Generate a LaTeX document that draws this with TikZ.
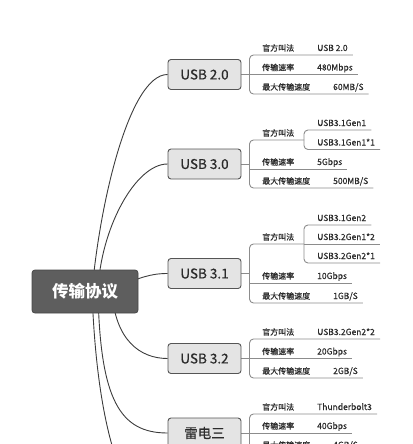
\documentclass[tikz,border=0pt]{standalone}
\usepackage{fontspec}
\setmainfont{Noto Sans CJK SC}
\newfontfamily\medfont[FakeBold=0.5]{Noto Sans CJK SC}
\definecolor{rootfill}{HTML}{5E5E5E}
\definecolor{rootdraw}{HTML}{474747}
\definecolor{boxfill}{HTML}{E4E4E4}
\definecolor{boxdraw}{HTML}{555555}
\definecolor{linkc}{HTML}{3C3C3C}
\definecolor{brc}{HTML}{8C8C8C}
\definecolor{txt}{HTML}{2B2B2B}
\pgfdeclarelayer{bg}
\pgfsetlayers{bg,main}
\begin{document}
\begin{tikzpicture}[x=1pt,y=-1pt,
  cat/.style={draw=boxdraw, fill=boxfill, rounded corners=3pt, line width=0.9pt,
    minimum width=73pt, minimum height=30pt, inner sep=0pt,
    font=\medfont\fontsize{13.5}{15}\selectfont, text=txt},
  rootbox/.style={draw=rootdraw, fill=rootfill, rounded corners=3pt, line width=0.8pt,
    minimum width=106pt, minimum height=43pt, inner sep=0pt,
    font=\fontsize{16.5}{18}\selectfont\bfseries, text=white},
  key/.style={anchor=base west, inner sep=0pt, font=\medfont\fontsize{8}{9}\selectfont, text=txt},
  val/.style={anchor=base west, inner xsep=5pt, inner ysep=0pt, font=\medfont\fontsize{8.5}{9}\selectfont, text=txt},
  link/.style={draw=linkc, line width=0.9pt},
  branch/.style={draw=brc, line width=0.9pt, rounded corners=4pt},
]
\useasboundingbox (0,0) rectangle (412,444);

% ---------- main nodes ----------
\node[rootbox] (root) at (85,291.5) {传输协议};
\node[cat] (u20) at (204.5,74.5) {USB 2.0};
\node[cat] (u30) at (204.5,164) {USB 3.0};
\node[cat] (u31) at (204.5,273.5) {USB 3.1};
\node[cat] (u32) at (204.5,358.5) {USB 3.2};
\node[cat] (tb3) at (204.5,433) {雷电三};
\coordinate (more) at (168,520);

% ---------- USB 2.0 ----------
\coordinate (a1) at (249.5,55);
\coordinate (a2) at (249.5,74.5);
\coordinate (a3) at (249.5,94);
\node[key] (ak1) at (262,51) {官方叫法};
\node[val] (av1) at (312,51) {USB 2.0};
\node[key] (ak2) at (262,70.5) {传输速率};
\node[val] (av2) at (312,70.5) {480Mbps};
\node[key] (ak3) at (262,90) {最大传输速度};
\node[val] (av3) at (328,90) {60MB/S};

% ---------- USB 3.0 ----------
\coordinate (b1) at (249.5,140);
\coordinate (b2) at (249.5,169);
\coordinate (b3) at (249.5,188);
\coordinate (bs1) at (304,130);
\coordinate (bs2) at (304,149.5);
\node[key] (bk1) at (262,136) {官方叫法};
\node[val] (bv1a) at (312,126) {USB3.1Gen1};
\node[val] (bv1b) at (312,145.5) {USB3.1Gen1*1};
\node[key] (bk2) at (262,165) {传输速率};
\node[val] (bv2) at (312,165) {5Gbps};
\node[key] (bk3) at (262,184) {最大传输速度};
\node[val] (bv3) at (328,184) {500MB/S};

% ---------- USB 3.1 ----------
\coordinate (c1) at (249.5,244);
\coordinate (c2) at (249.5,283);
\coordinate (c3) at (249.5,303);
\coordinate (cs1) at (304,225);
\coordinate (cs2) at (304,244);
\coordinate (cs3) at (304,263);
\node[key] (ck1) at (262,240) {官方叫法};
\node[val] (cv1a) at (312,221) {USB3.1Gen2};
\node[val] (cv1b) at (312,240) {USB3.2Gen1*2};
\node[val] (cv1c) at (312,259) {USB3.2Gen2*1};
\node[key] (ck2) at (262,279) {传输速率};
\node[val] (cv2) at (312,279) {10Gbps};
\node[key] (ck3) at (262,299) {最大传输速度};
\node[val] (cv3) at (328,299) {1GB/S};

% ---------- USB 3.2 ----------
\coordinate (d1) at (249.5,339);
\coordinate (d2) at (249.5,358.5);
\coordinate (d3) at (249.5,378);
\node[key] (dk1) at (262,335) {官方叫法};
\node[val] (dv1) at (312,335) {USB3.2Gen2*2};
\node[key] (dk2) at (262,354.5) {传输速率};
\node[val] (dv2) at (312,354.5) {20Gbps};
\node[key] (dk3) at (262,374) {最大传输速度};
\node[val] (dv3) at (328,374) {2GB/S};

% ---------- Thunderbolt 3 ----------
\coordinate (e1) at (249.5,414);
\coordinate (e2) at (249.5,433);
\coordinate (e3) at (249.5,452);
\node[key] (ek1) at (262,410) {官方叫法};
\node[val] (ev1) at (312,410) {Thunderbolt3};
\node[key] (ek2) at (262,429) {传输速率};
\node[val] (ev2) at (312,429) {40Gbps};
\node[key] (ek3) at (262,448) {最大传输速度};
\node[val] (ev3) at (328,448) {4GB/S};

\begin{pgfonlayer}{bg}
  % root connectors
  \draw[link] (root.center) ++(7,0) .. controls (100,200) and (130,74.5) .. (u20.west);
  \draw[link] (root.center) ++(13,0) .. controls (100,230) and (135,164) .. (u30.west);
  \draw[link] (root.center) ++(35,-6) .. controls (140,278) and (150,273.5) .. (u31.west);
  \draw[link] (root.center) ++(27,0) .. controls (115,340) and (140,358.5) .. (u32.west);
  \draw[link] (root.center) ++(13,0) .. controls (100,400) and (120,433) .. (tb3.west);
  \draw[link] (root.center) ++(7,0) .. controls (98,460) and (135,520) .. (more);

  % USB 2.0 branches
  \draw[branch] (a1 -| av1.east) -- (a1) -- (a3) -- (a3 -| av3.east);
  \draw[branch] (u20.east) -- (a2 -| av2.east);

  % USB 3.0 branches
  \draw[branch] (b1 -| bs1) -- (b1) -- (b3) -- (b3 -| bv3.east);
  \draw[branch] (u30.east) -- (u30.east -| b1);
  \draw[branch] (b2) -- (b2 -| bv2.east);
  \draw[branch] (bs1 -| bv1a.east) -- (bs1) -- (bs2) -- (bs2 -| bv1b.east);

  % USB 3.1 branches
  \draw[branch] (c1 -| cs1) -- (c1) -- (c3) -- (c3 -| cv3.east);
  \draw[branch] (u31.east) -- (u31.east -| c1);
  \draw[branch] (c2) -- (c2 -| cv2.east);
  \draw[branch] (cs1 -| cv1a.east) -- (cs1) -- (cs3) -- (cs3 -| cv1c.east);
  \draw[branch] (cs2) -- (cs2 -| cv1b.east);

  % USB 3.2 branches
  \draw[branch] (d1 -| dv1.east) -- (d1) -- (d3) -- (d3 -| dv3.east);
  \draw[branch] (u32.east) -- (d2 -| dv2.east);

  % Thunderbolt 3 branches
  \draw[branch] (e1 -| ev1.east) -- (e1) -- (e3) -- (e3 -| ev3.east);
  \draw[branch] (tb3.east) -- (e2 -| ev2.east);
\end{pgfonlayer}
\end{tikzpicture}
\end{document}
